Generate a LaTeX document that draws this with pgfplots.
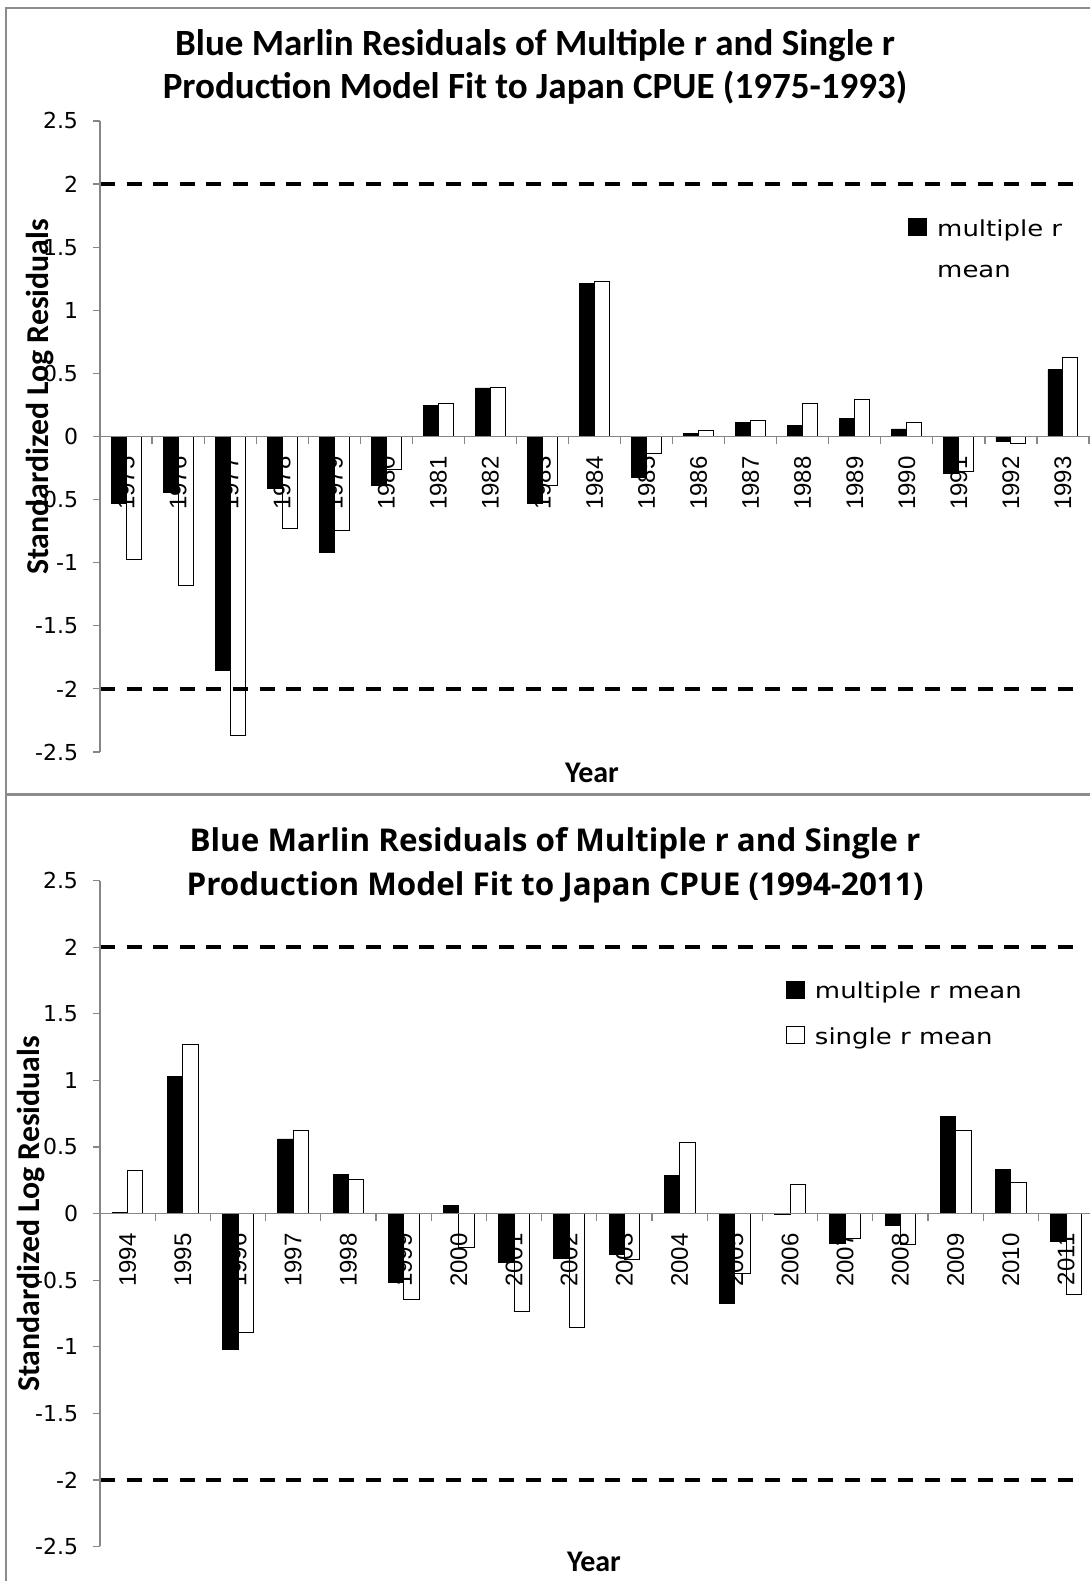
\documentclass[border=0pt]{standalone}
\usepackage{pgfplots}
\pgfplotsset{compat=1.18}
\usepackage{fontspec}
\setmainfont{Carlito}
\newfontfamily\osans{Open Sans}
\newfontfamily\tickfont{DejaVu Sans}
\newfontfamily\legfont[FakeStretch=1.18]{DejaVu Sans}
\newfontfamily\yearfont{Liberation Sans}
\definecolor{axgray}{RGB}{134,134,134}
\definecolor{framegray}{RGB}{140,140,140}
\pgfplotsset{
  sqleg/.style={legend image code/.code={\draw[##1] (0pt,-3.2pt) rectangle (9pt,5.4pt);}},
  common/.style={
    scale only axis, axis on top,
    xmin=-0.5, ymin=-2.5, ymax=2.5,
    axis y line=left, axis x line=middle,
    axis line style={-, axgray, line width=0.6pt},
    tick style={axgray, line width=0.6pt},
    tick align=outside,
    major x tick style={draw=none},
    major tick length=3.3pt, minor tick length=3.8pt,
    ytick={-2.5,-2,-1.5,-1,-0.5,0,0.5,1,1.5,2,2.5},
    yticklabels={-2.5,-2,-1.5,-1,-0.5,0,0.5,1,1.5,2,2.5},
    xticklabel style={font=\yearfont\fontsize{12}{14}\selectfont, rotate=90, anchor=east, inner sep=0pt},
    xticklabel shift=6.5pt,
    yticklabel style={font=\tickfont\fontsize{11}{13}\selectfont, anchor=east, inner sep=0pt},
    yticklabel shift=7.5pt,
    legend style={draw=none, fill=none, inner sep=0pt, anchor=north west,
      font=\legfont\fontsize{11}{13}\selectfont, row sep=12pt, column sep=5pt,
      nodes={inner sep=0pt}},
    legend cell align=left,
  },
}
\begin{document}
\begin{tikzpicture}
\useasboundingbox (0,0) rectangle (545pt,790.5pt);
\clip (0,0) rectangle (545pt,790.5pt);
\fill[white] (0,0) rectangle (545pt,790.5pt);
\draw[framegray, line width=1.1pt] (3pt,-5pt) -- (3pt,786.5pt) -- (560pt,786.5pt);
\draw[framegray, line width=1.5pt] (3pt,393pt) -- (560pt,393pt);

% ---------- top chart ----------
\begin{axis}[common,
  at={(50pt,414.5pt)}, anchor=south west,
  width=494.5pt, height=315.5pt, xmax=18.5,
  xtick={0,...,18},
  xticklabels={1975,1976,1977,1978,1979,1980,1981,1982,1983,1984,1985,1986,1987,1988,1989,1990,1991,1992,1993},
  minor xtick={-0.5,0.5,...,18.5},
  legend style={at={(axis description cs:0.817,0.847)}},
]
\addplot[ybar, bar width=7.5pt, bar shift=-3.75pt, fill=black, draw=black, line width=0.4pt, sqleg] coordinates {
(0,-0.53) (1,-0.44) (2,-1.855) (3,-0.41) (4,-0.915) (5,-0.39) (6,0.245) (7,0.385) (8,-0.53) (9,1.215)
(10,-0.325) (11,0.025) (12,0.113) (13,0.085) (14,0.145) (15,0.06) (16,-0.29) (17,-0.035) (18,0.528)};
\addlegendentry{\begin{tabular}[t]{@{}l@{}}multiple r\\[7.5pt]mean\end{tabular}}
\addplot[ybar, bar width=7.5pt, bar shift=3.75pt, fill=white, draw=black, line width=0.5pt, forget plot] coordinates {
(0,-0.975) (1,-1.18) (2,-2.37) (3,-0.73) (4,-0.743) (5,-0.264) (6,0.26) (7,0.39) (8,-0.387) (9,1.232)
(10,-0.134) (11,0.05) (12,0.13) (13,0.26) (14,0.29) (15,0.11) (16,-0.275) (17,-0.056) (18,0.627)};
\draw[black, line width=2pt, dash pattern=on 7.5pt off 5.8pt] (axis cs:-0.5,2) -- (axis cs:18.29,2);
\draw[black, line width=2pt, dash pattern=on 7.5pt off 5.8pt] (axis cs:-0.5,-2) -- (axis cs:18.29,-2);
\end{axis}

% ---------- bottom chart ----------
\begin{axis}[common,
  at={(50pt,17.25pt)}, anchor=south west,
  width=496.8pt, height=333pt, xmax=17.5,
  xtick={0,...,17},
  xticklabels={1994,1995,1996,1997,1998,1999,2000,2001,2002,2003,2004,2005,2006,2007,2008,2009,2010,2011},
  minor xtick={-0.5,0.5,...,17.5},
  legend style={at={(axis description cs:0.690,0.850)}},
]
\addplot[ybar, bar width=7.7pt, bar shift=-3.85pt, fill=black, draw=black, line width=0.4pt, sqleg] coordinates {
(0,0.01) (1,1.03) (2,-1.02) (3,0.56) (4,0.29) (5,-0.515) (6,0.06) (7,-0.365) (8,-0.338) (9,-0.307)
(10,0.284) (11,-0.676) (12,-0.01) (13,-0.223) (14,-0.088) (15,0.726) (16,0.33) (17,-0.21)};
\addlegendentry{multiple r mean}
\addplot[ybar, bar width=7.7pt, bar shift=3.85pt, fill=white, draw=black, line width=0.5pt, sqleg] coordinates {
(0,0.32) (1,1.27) (2,-0.895) (3,0.626) (4,0.253) (5,-0.645) (6,-0.257) (7,-0.737) (8,-0.856) (9,-0.346)
(10,0.53) (11,-0.453) (12,0.215) (13,-0.19) (14,-0.23) (15,0.626) (16,0.23) (17,-0.607)};
\addlegendentry{single r mean}
\draw[black, line width=2pt, dash pattern=on 7.5pt off 5.8pt] (axis cs:-0.5,2) -- (axis cs:17.13,2);
\draw[black, line width=2pt, dash pattern=on 7.5pt off 5.8pt] (axis cs:-0.5,-2) -- (axis cs:17.13,-2);
\end{axis}

% ---------- titles and axis titles ----------
\node[anchor=base, font=\bfseries\fontsize{18.5}{22}\selectfont, inner sep=0pt] at (267.5pt,762.75pt) {Blue Marlin Residuals of Multiple r and Single r};
\node[anchor=base, font=\bfseries\fontsize{18.5}{22}\selectfont, inner sep=0pt] at (267.5pt,741pt) {Production Model Fit to Japan CPUE (1975-1993)};
\node[anchor=base, font=\osans\bfseries\fontsize{15.7}{19}\selectfont, inner sep=0pt] at (277.5pt,364.5pt) {Blue Marlin Residuals of Multiple r and Single r};
\node[anchor=base, font=\osans\bfseries\fontsize{15.7}{19}\selectfont, inner sep=0pt] at (277.5pt,342.5pt) {Production Model Fit to Japan CPUE (1994-2011)};

\node[rotate=90, font=\bfseries\fontsize{15.9}{19}\selectfont, inner sep=0pt] at (20pt,592pt) {Standardized Log Residuals};
\node[rotate=90, font=\bfseries\fontsize{15.9}{19}\selectfont, inner sep=0pt] at (15.5pt,183.5pt) {Standardized Log Residuals};
\node[font=\bfseries\fontsize{15}{18}\selectfont, inner sep=0pt] at (296pt,404pt) {Year};
\node[font=\bfseries\fontsize{15}{18}\selectfont, inner sep=0pt] at (297pt,9.5pt) {Year};
\end{tikzpicture}
\end{document}
